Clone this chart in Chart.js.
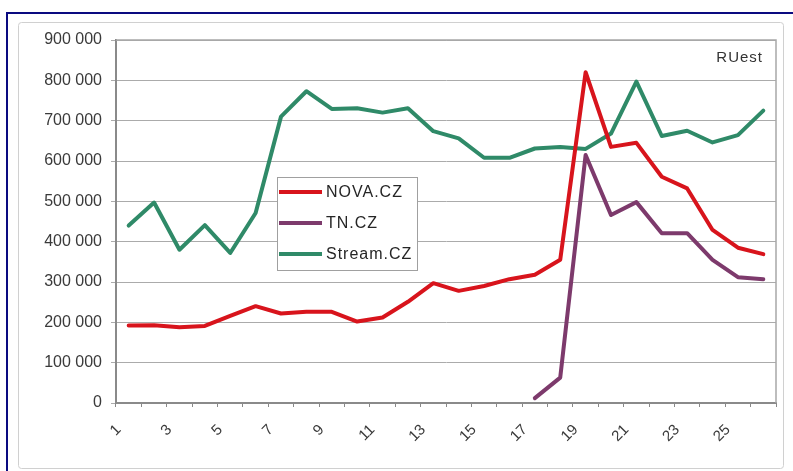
<!DOCTYPE html>
<html>
<head>
<meta charset="utf-8">
<script src="https://cdn.jsdelivr.net/npm/chart.js@4/dist/chart.umd.min.js"></script>
<style>
  html, body { margin: 0; padding: 0; background: #fff; }
  #wrap { position: relative; width: 793px; height: 471px; }
</style>
</head>
<body>
<div id="wrap"><canvas id="c" width="793" height="471"></canvas></div>
<script>
// Day of the month
const days = ['1','2','3','4','5','6','7','8','9','10','11','12','13','14','15','16','17','18','19','20','21','22','23','24','25','26'];

// Daily real users per site
const nova = [192000, 193000, 188000, 191000, 216000, 240000, 222000, 226000, 226000, 202000, 212000, 251000, 297000,
              278000, 290000, 307000, 318000, 355000, 820000, 635000, 645000, 561000, 532000, 429000, 385000, 369000];
const tn = [null, null, null, null, null, null, null, null, null, null, null, null, null,
            null, null, null, 12000, 63000, 615000, 466000, 498000, 421000, 421000, 355000, 312000, 307000];
const stream = [440000, 497000, 380000, 441000, 372000, 471000, 710000, 773000, 729000, 731000, 720000, 731000, 674000,
                656000, 608000, 608000, 631000, 635000, 630000, 668000, 797000, 662000, 675000, 646000, 664000, 725000];

const seriesNames = ['NOVA.CZ', 'TN.CZ', 'Stream.CZ'];
const seriesColors = ['#d8141c', '#7d3a6c', '#2f8a68'];
const cornerNote = 'RUest';

const FONT = '"Liberation Sans", Arial, sans-serif';

function spaced(v) {
  return String(v).replace(/\B(?=(\d{3})+(?!\d))/g, ' ');
}

// Page frame, plot border, legend box and corner note
const decor = {
  id: 'decor',
  beforeDraw(chart) {
    const ctx = chart.ctx;
    ctx.save();
    ctx.fillStyle = '#ffffff';
    ctx.fillRect(0, 0, chart.width, chart.height);
    // outer navy frame
    ctx.strokeStyle = '#0a0a80';
    ctx.lineWidth = 2;
    ctx.beginPath();
    ctx.moveTo(7, 471);
    ctx.lineTo(7, 13);
    ctx.lineTo(793, 13);
    ctx.stroke();
    // chart surround
    ctx.strokeStyle = '#d0d0d0';
    ctx.lineWidth = 1;
    ctx.beginPath();
    ctx.roundRect(18.5, 22.5, 765, 446, 3);
    ctx.stroke();
    ctx.restore();
  },
  beforeDatasetsDraw(chart) {
    const a = chart.chartArea, ctx = chart.ctx;
    ctx.save();
    ctx.strokeStyle = '#a8a8a8';
    ctx.lineWidth = 1.5;
    ctx.beginPath();
    ctx.moveTo(a.left, a.top);
    ctx.lineTo(a.right, a.top);
    ctx.lineTo(a.right, a.bottom);
    ctx.stroke();
    ctx.restore();
  },
  afterDatasetsDraw(chart) {
    const ctx = chart.ctx;
    ctx.save();
    // legend
    const bx = 277.5, by = 177.5, bw = 140, bh = 93;
    ctx.fillStyle = '#ffffff';
    ctx.fillRect(bx, by, bw, bh);
    ctx.strokeStyle = '#a0a0a0';
    ctx.lineWidth = 1;
    ctx.strokeRect(bx, by, bw, bh);
    ctx.font = '16px ' + FONT;
    ctx.textBaseline = 'middle';
    ctx.textAlign = 'left';
    ctx.letterSpacing = '1px';
    chart.data.datasets.forEach((ds, i) => {
      const y = 192 + i * 31;
      ctx.strokeStyle = ds.borderColor;
      ctx.lineWidth = 4;
      ctx.beginPath();
      ctx.moveTo(279, y);
      ctx.lineTo(322, y);
      ctx.stroke();
      ctx.fillStyle = '#262626';
      ctx.fillText(ds.label, 326, y + 1);
    });
    // corner note
    ctx.font = '15px ' + FONT;
    ctx.letterSpacing = '1px';
    ctx.textAlign = 'right';
    ctx.fillStyle = '#333333';
    ctx.fillText(cornerNote, 763, 58);
    ctx.letterSpacing = '0px';
    ctx.restore();
  }
};

const datasets = [nova, tn, stream].map((d, i) => ({
  label: seriesNames[i],
  data: d,
  borderColor: seriesColors[i],
  backgroundColor: seriesColors[i],
  borderWidth: 4,
  pointRadius: 0,
  pointHoverRadius: 0,
  tension: 0,
  fill: false,
  spanGaps: false,
  borderJoinStyle: 'round',
  borderCapStyle: 'round'
}));

new Chart(document.getElementById('c'), {
  type: 'line',
  data: { labels: days, datasets: datasets },
  options: {
    responsive: false,
    animation: false,
    events: [],
    layout: { padding: { left: 0, top: 40, right: 17, bottom: 0 } },
    plugins: { legend: { display: false }, tooltip: { enabled: false }, title: { display: false } },
    scales: {
      x: {
        type: 'category',
        offset: true,
        afterFit(scale) { scale.height = 68; },
        grid: { display: true, drawOnChartArea: false, drawTicks: true, tickLength: 4, offset: true, color: '#888888', lineWidth: 1 },
        border: { display: true, color: '#8a8a8a', width: 2 },
        ticks: {
          autoSkip: false,
          maxRotation: 45,
          minRotation: 45,
          padding: 14,
          labelOffset: -10,
          color: '#3a3a3a',
          font: { family: FONT, size: 15 },
          callback: function (v, i) { return i % 2 === 0 ? this.getLabelForValue(v) : ''; }
        }
      },
      y: {
        min: 0,
        max: 900000,
        afterFit(scale) { scale.width = 116; },
        grid: { color: '#ababab', lineWidth: 1, drawTicks: true, tickLength: 5 },
        border: { display: true, color: '#8a8a8a', width: 2 },
        ticks: {
          stepSize: 100000,
          padding: 9,
          color: '#3a3a3a',
          font: { family: FONT, size: 16 },
          callback: (v) => spaced(v)
        }
      }
    }
  },
  plugins: [decor]
});
</script>
</body>
</html>
